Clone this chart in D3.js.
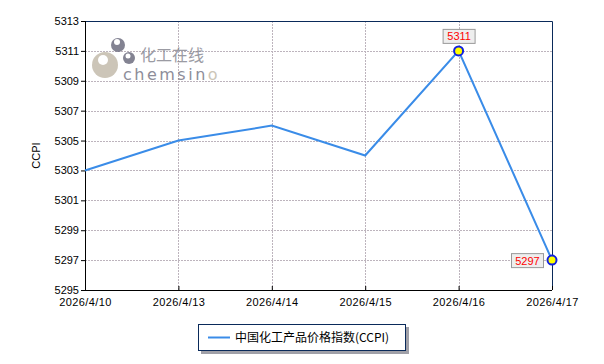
<!DOCTYPE html>
<html>
<head>
<meta charset="utf-8">
<script src="https://cdn.jsdelivr.net/npm/d3@7"></script>
<style>
  body { margin: 0; background: #fff; }
  svg { display: block; font-family: "Liberation Sans", Arial, sans-serif; }
</style>
</head>
<body>
<script>
// chart data
var dates = ['2026/4/10', '2026/4/13', '2026/4/14', '2026/4/15', '2026/4/16', '2026/4/17'];
var ccpi = [5303, 5305, 5306, 5304, 5311, 5297];
var yTicks = [5295, 5297, 5299, 5301, 5303, 5305, 5307, 5309, 5311, 5313];
var seriesName = '中国化工产品价格指数(CCPI)';
// points that carry a value label: max and last
var labelled = [4, 5];

var width = 604, height = 364;
var margin = { top: 21, right: 52, bottom: 74, left: 85 };
var w = width - margin.left - margin.right;
var h = height - margin.top - margin.bottom;

var svg = d3.select('body').append('svg')
	.attr('width', width)
	.attr('height', height);

var x = d3.scalePoint().domain(dates).range([0, w]);
var y = d3.scaleLinear().domain([5295, 5313]).range([h, 0]);

var g = svg.append('g')
	.attr('transform', 'translate(' + margin.left + ',' + margin.top + ')');

// watermark logo
var logo = svg.append('g').attr('opacity', 0.85);
logo.append('circle').attr('cx', 105).attr('cy', 65).attr('r', 13).attr('fill', '#c4bcac');
logo.append('circle').attr('cx', 103).attr('cy', 60).attr('r', 5).attr('fill', '#fff');
logo.append('circle').attr('cx', 118).attr('cy', 45).attr('r', 7).attr('fill', '#6e6e80');
logo.append('circle').attr('cx', 117).attr('cy', 42).attr('r', 3).attr('fill', '#fff');
logo.append('circle').attr('cx', 129).attr('cy', 58).attr('r', 6).attr('fill', '#6e6e80');
logo.append('circle').attr('cx', 128).attr('cy', 56).attr('r', 2.5).attr('fill', '#fff');
logo.append('text').attr('x', 140).attr('y', 61)
	.attr('font-size', 16).attr('fill', '#8a8a94')
	.attr('font-family', '"Noto Sans CJK SC", sans-serif')
	.text('化工在线');
var cs = logo.append('text').attr('x', 123).attr('y', 80)
	.attr('font-size', 16).attr('fill', '#7a7a88')
	.attr('letter-spacing', 2.5)
	.attr('font-family', '"DejaVu Sans", sans-serif');
cs.append('tspan').text('chemsin');
cs.append('tspan').attr('fill', '#c4bcac').text('o');

// grid
g.append('g').selectAll('line')
	.data(yTicks.slice(1, -1))
	.join('line')
	.attr('x1', 0).attr('x2', w)
	.attr('y1', function(d){ return Math.round(y(d)) + 0.5; })
	.attr('y2', function(d){ return Math.round(y(d)) + 0.5; })
	.attr('stroke', '#bdb4bd').attr('stroke-dasharray', '2,1');

g.append('g').selectAll('line')
	.data(dates.slice(1, -1))
	.join('line')
	.attr('x1', function(d){ return Math.round(x(d)) + 0.5; })
	.attr('x2', function(d){ return Math.round(x(d)) + 0.5; })
	.attr('y1', 0).attr('y2', h)
	.attr('stroke', '#bdb4bd').attr('stroke-dasharray', '2,1');

// top and right frame
g.append('path')
	.attr('d', 'M0,0.5H' + (w + 0.5) + 'V' + h)
	.attr('fill', 'none').attr('stroke', '#0a2a5a');

// axes
var yAxis = d3.axisLeft(y).tickValues(yTicks).tickSize(4).tickPadding(2).tickFormat(d3.format('d'));
var yg = g.append('g').call(yAxis);
yg.select('.domain').attr('d', 'M0.5,0V' + h).attr('stroke', '#000');

var xAxis = d3.axisBottom(x).tickSize(0).tickPadding(8);
var xg = g.append('g').attr('transform', 'translate(0,' + h + ')').call(xAxis);
xg.select('.domain').attr('d', 'M0,0.5H' + w).attr('stroke', '#000');
xg.selectAll('.tick').append('line').attr('y1', -4).attr('y2', 0).attr('stroke', '#000');

svg.selectAll('.tick text').attr('font-size', 11).attr('fill', '#000')
	.attr('font-family', '"Liberation Sans", Arial, sans-serif');
xg.selectAll('.tick text').attr('letter-spacing', 0.4);

// y axis title
svg.append('text')
	.attr('transform', 'translate(40,' + (margin.top + h / 2) + ') rotate(-90)')
	.attr('text-anchor', 'middle')
	.attr('font-size', 11)
	.text('CCPI');

// line
var line = d3.line()
	.x(function(d, i){ return x(dates[i]); })
	.y(function(d){ return y(d); });

g.append('path')
	.datum(ccpi)
	.attr('d', line)
	.attr('fill', 'none')
	.attr('stroke', '#3a8ce8')
	.attr('stroke-width', 2);

// markers and value labels
labelled.forEach(function(i){
	var cx = x(dates[i]), cy = y(ccpi[i]);
	g.append('circle')
		.attr('cx', cx).attr('cy', cy).attr('r', 4.5)
		.attr('fill', '#ffff00').attr('stroke', '#1020e0').attr('stroke-width', 2);

	var bx, by;
	if (i === dates.length - 1) { bx = cx - 41; by = cy - 7; }
	else { bx = cx - 16; by = cy - 22; }
	g.append('rect')
		.attr('x', bx + 0.5).attr('y', by + 0.5)
		.attr('width', 32).attr('height', 14)
		.attr('fill', '#eeeeee').attr('stroke', '#999');
	g.append('text')
		.attr('x', bx + 16.5).attr('y', by + 11.5)
		.attr('text-anchor', 'middle')
		.attr('font-size', 11).attr('fill', '#ff0000')
		.text(ccpi[i]);
});

// legend
var lg = svg.append('g').attr('transform', 'translate(198,324)');
lg.append('rect').attr('x', 3).attr('y', 3).attr('width', 208).attr('height', 27).attr('fill', '#a0a0a8');
lg.append('rect').attr('x', 0.5).attr('y', 0.5).attr('width', 207).attr('height', 26)
	.attr('fill', '#fff').attr('stroke', '#0a2a5a');
lg.append('line').attr('x1', 10).attr('x2', 32).attr('y1', 13.5).attr('y2', 13.5)
	.attr('stroke', '#3a8ce8').attr('stroke-width', 2);
lg.append('text').attr('x', 37).attr('y', 18)
	.attr('font-size', 12)
	.attr('font-family', '"Noto Sans CJK SC", sans-serif')
	.text(seriesName);
</script>
</body>
</html>
